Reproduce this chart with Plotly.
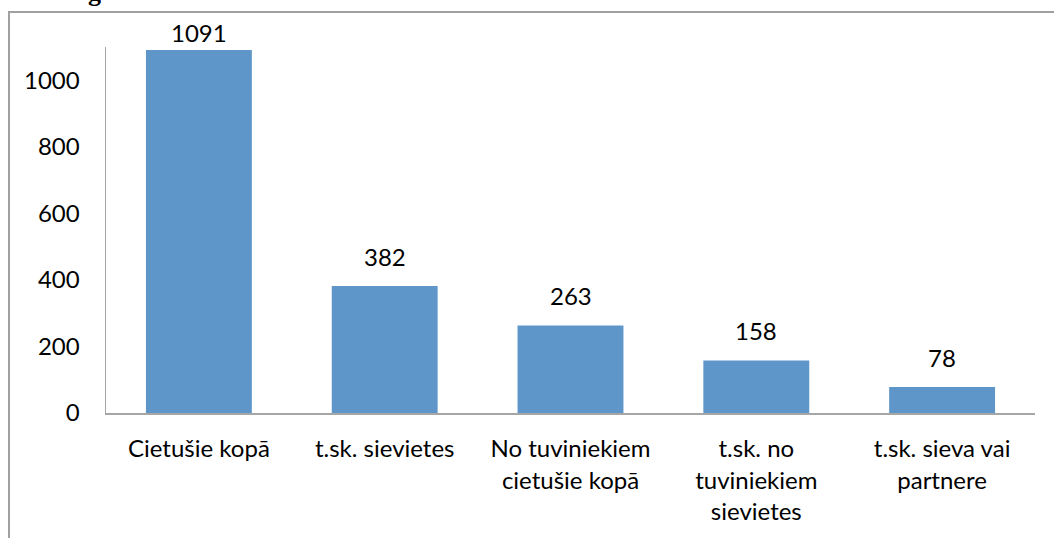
import plotly.graph_objects as go

categories = ["Cietušie kopā", "t.sk. sievietes", "No tuviniekiem<br>cietušie kopā",
              "t.sk. no<br>tuviniekiem<br>sievietes", "t.sk. sieva vai<br>partnere"]
values = [1091, 382, 263, 158, 78]
y_ticks = [0, 200, 400, 600, 800, 1000]
label_shift = [1, 13, 13, 13, 13]

FONT = "Lato"
FS = 24
W, H = 1054, 538
L, R, T, B = 106, 19, 47, 125
pw, ph = W - L - R, H - T - B

fig = go.Figure()
fig.add_trace(go.Bar(x=categories, y=values, marker=dict(color="#5F96C9", line=dict(width=0)),
                     width=0.57, cliponaxis=False, hoverinfo="skip"))

for c, v, s in zip(categories, values, label_shift):
    fig.add_annotation(x=c, y=v, text=str(v), showarrow=False, yanchor="bottom",
                       xanchor="center", yshift=s, font=dict(family=FONT, size=FS, color="black"))

def px_x(p):
    return (p - L) / pw

def px_y(p):
    return (H - B - p) / ph

# outer chart border (extends past the right and bottom edges)
fig.add_shape(type="rect", xref="paper", yref="paper",
              x0=px_x(9), x1=px_x(W + 20), y0=px_y(H + 20), y1=px_y(12),
              line=dict(color="#A0A0A0", width=2), fillcolor="rgba(0,0,0,0)", layer="below")

# clipped heading fragment at top
fig.add_annotation(xref="paper", yref="paper", x=px_x(86), y=px_y(9), xanchor="left", yanchor="bottom",
                   text="<b>g</b>", showarrow=False,
                   font=dict(family="Liberation Serif", size=26, color="black"))

fig.update_layout(
    width=W, height=H,
    margin=dict(l=L, r=R, t=T, b=B),
    paper_bgcolor="white", plot_bgcolor="white",
    showlegend=False,
    font=dict(family=FONT, size=FS, color="black"),
    xaxis=dict(showline=True, linecolor="#A6A6A6", linewidth=1.5, ticks="", showgrid=False,
               zeroline=False, tickfont=dict(family=FONT, size=FS, color="black"),
               ticklabelstandoff=14),
    yaxis=dict(range=[0, 1100], tickvals=y_ticks, showline=True, linecolor="#A6A6A6", linewidth=1.5,
               ticks="", showgrid=False, zeroline=False,
               tickfont=dict(family=FONT, size=FS, color="black"), ticklabelstandoff=20),
)

fig.write_html("out.html", config={"displayModeBar": False, "staticPlot": True},
               post_script="document.body.style.margin='0';document.body.style.overflow='hidden';")
